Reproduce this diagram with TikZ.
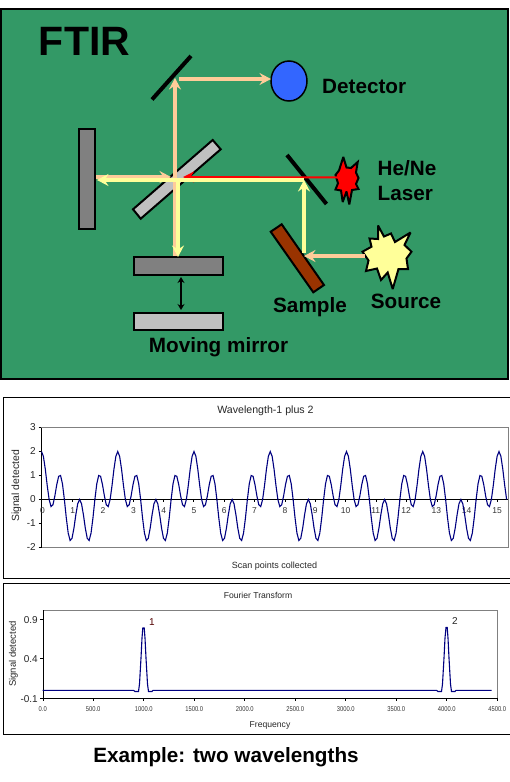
\documentclass[tikz,border=0pt]{standalone}
\usepackage{fontspec}
\setmainfont{Liberation Sans}
\newfontfamily\narrowfont[FakeStretch=0.83]{Liberation Sans}
\usetikzlibrary{arrows.meta,shapes.geometric}
\definecolor{panelgreen}{HTML}{339966}
\definecolor{beampeach}{HTML}{FFCC99}
\definecolor{beamyellow}{HTML}{FFFF99}
\definecolor{mirrorgray}{HTML}{808080}
\definecolor{mirrorsilver}{HTML}{C0C0C0}
\definecolor{samplebrown}{HTML}{993300}
\definecolor{detectorblue}{HTML}{3366FF}
\definecolor{curvenavy}{HTML}{000080}
\tikzset{
	boldlab/.style={font=\fontsize{20.7}{25}\selectfont\bfseries,align=left,inner sep=0pt},
	chartlab/.style={font=\fontsize{8.6}{10}\selectfont,inner sep=0pt,text=black!85},
	ticklab/.style={font=\fontsize{10}{10}\selectfont,inner sep=0pt,text=black!85},
	smalllab/.style={font=\narrowfont\fontsize{7}{8}\selectfont,inner sep=0pt,text=black!80},
	mirror/.style={draw=black,line width=2pt},
	burst/.style={draw=black,line width=2pt,miter limit=3},
	thinmirror/.style={draw=black,line width=4pt},
	peachbeam/.style={draw=beampeach,line width=3.6pt,-{Stealth[length=11.5pt,width=12pt,inset=4pt,fill=beampeach]}},
	yellowbeam/.style={draw=beamyellow,line width=3.6pt,-{Stealth[length=11.5pt,width=12pt,inset=4pt,fill=beamyellow]}},
}
\begin{document}
\begin{tikzpicture}[x=1pt,y=-1pt]
	\useasboundingbox (0,0) rectangle (509,782);

	% Panell superior
	\draw[fill=panelgreen,line width=2pt] (1,9) rectangle (508,379);
	\node[boldlab,font=\fontsize{41}{41}\selectfont\bfseries] (ftir) at (84.5,41) {FTIR};

	% Miralls
	\draw[mirror,fill=mirrorgray] (79,128.5) rectangle (94.5,228.5);
	\draw[mirror,fill=mirrorsilver] (212.7,140) -- (220.7,149.3) -- (140.7,218.7) -- (133,209.3) -- cycle;
	\draw[mirror,fill=mirrorgray] (134,257) rectangle (223,274.5);
	\draw[mirror,fill=mirrorsilver] (134,312.5) rectangle (223,330);
	\draw[thinmirror] (152,99.5) -- (191,56);
	\draw[thinmirror] (287,155) -- (326.5,204);
	\draw[mirror,fill=samplebrown] (270.7,231.7) -- (281.7,224.3) -- (324,285) -- (313.3,292.3) -- cycle;

	% Detector, laser i font
	\node[draw,line width=1.5pt,fill=detectorblue,ellipse,minimum width=36pt,minimum height=40pt,inner sep=0pt] (detector) at (289,81) {};
	\draw[burst,fill=red] (343.3,157) -- (346.5,167.5) -- (351,168) -- (357.7,162)
		-- (356,172.5) -- (358.5,178) -- (356,184) -- (358.5,189) -- (352,190) -- (349.3,204.5)
		-- (346.5,191.5) -- (342.7,202) -- (341,190.5) -- (335.5,189.5) -- (338,183.3)
		-- (335.5,175) -- (339,170.5) -- cycle;
	\draw[burst,fill=beamyellow] (378,225.5) -- (384,236.5) -- (391,233.5) -- (395,242) -- (410.5,232.5)
		-- (404.5,245) -- (411.5,251.7) -- (406.5,258.5) -- (408,269) -- (398.5,269) -- (392.7,289)
		-- (387.7,272.5) -- (381,280) -- (377,268.5) -- (366,271) -- (368.5,260.5) -- (362.5,251.7)
		-- (371.5,246.7) -- (369.5,238.5) -- (378,239) -- cycle;

	% Punts dels feixos
	\coordinate (TopM) at (175,78);
	\coordinate (Low) at (175,256);
	\coordinate (DetIn) at (271,79);
	\coordinate (DetOut) at (179,79);
	\coordinate (Back) at (96,177);
	\coordinate (SplitL) at (171,177);
	\coordinate (LasM) at (304,180);
	\coordinate (SamM) at (304,256);
	\coordinate (SrcOut) at (365,256);
	\coordinate (LasOut) at (338,177.5);
	\coordinate (SplitR) at (183,177);

	% Feixos
	\draw[peachbeam] (Low) -- (TopM);
	\draw[peachbeam] (DetOut) -- (DetIn);
	\draw[peachbeam] (Back) -- (SplitL);
	\draw[peachbeam] (SrcOut) -- (SamM);
	\draw[red,line width=2pt,-{Stealth[length=11pt,width=11pt,inset=3.5pt]}] (LasOut) -- (SplitR);
	\draw[yellowbeam] (LasM) -- (97,180);
	\draw[yellowbeam] (178,180) -- (178,257);
	\draw[yellowbeam] (304,253) -- (LasM);
	\draw[line width=1.5pt,{Stealth[length=6pt,width=7pt]}-{Stealth[length=6pt,width=7pt]}] (181,277) -- (181,310);

	\node[boldlab,anchor=west] (detlab) at (322,86) {Detector};
	\node[boldlab,anchor=north west,text width=70pt] (laslab) at (377.5,160.5) {He/Ne\\Laser};
	\node[boldlab] (srclab) at (406,301) {Source};
	\node[boldlab] (samlab) at (310,307) {Sample};
	\node[boldlab] (movlab) at (218.5,347) {Moving mirror};

	% Primer grafic
	\draw[line width=1pt] (3.5,397.5) rectangle (515,578);
	\draw[mirrorgray] (41,427.5) -- (507.7,427.5) -- (507.7,547.5) -- (41,547.5);
	\draw (41,427.5) -- (41,547.5);
	\draw[line width=0.9pt] (41,499.5) -- (507.7,499.5);
	\foreach \y/\lab in {3/3,2/2,1/1,0/0,-1/-1,-2/-2} {
		\draw (38.5,499.5-24*\y) -- (41,499.5-24*\y);
		\node[ticklab,anchor=east] (ya\y) at (36,499.5-24*\y) {\lab};
	}
	\foreach \x in {0,...,15} {
		\draw (41.5+30.4*\x,499.5) -- (41.5+30.4*\x,502);
		\node[smalllab,font=\fontsize{8.5}{9}\selectfont] (xa\x) at (42.5+30.3*\x,510.5) {\x};
	}
	\draw[curvenavy,line width=1.1pt] plot[domain=0:15.25,samples=245] ({41.5+30.5*\x},{499.5-24*(cos(144*\x)+cos(576*\x))});
	\node[chartlab,font=\fontsize{10.6}{11}\selectfont] (titlea) at (265.5,411) {Wavelength-1 plus 2};
	\node[chartlab,font=\fontsize{9}{10}\selectfont] (scanlab) at (274.5,566) {Scan points collected};
	\node[chartlab,font=\fontsize{10.4}{11}\selectfont,rotate=90] (siga) at (16.5,486) {Signal detected};

	% Segon grafic
	\draw[line width=1pt] (3.5,583.5) rectangle (515,734.5);
	\draw[mirrorgray] (42.7,610.3) -- (497.3,610.3) -- (497.3,698.3);
	\draw (42.7,610.3) -- (42.7,698.3) -- (497.3,698.3);
	\foreach \y/\lab in {618.7/0.9,658.5/0.4,698.3/-0.1} {
		\draw (40,\y) -- (42.7,\y);
		\node[ticklab,anchor=east] (yb\lab) at (38,\y+1) {\lab};
	}
	\foreach \x/\lab in {0/0.0,500/500.0,1000/1000.0,1500/1500.0,2000/2000.0,2500/2500.0,3000/3000.0,3500/3500.0,4000/4000.0,4500/4500.0} {
		\draw (42.7+0.101*\x,698.3) -- (42.7+0.101*\x,701);
		\node[smalllab] (xb\x) at (42.7+0.101*\x,709.5) {\lab};
	}
	\draw[curvenavy,line width=1.1pt] plot coordinates {(42.7,690.3) (133.5,690.3) (135,691.5) (138.5,691.5) (139.5,684) (141,658) (142,638) (142.8,628) (144.2,628) (145,638) (146,658) (147.5,684) (148.5,691.5) (152,691.5) (153,690.3)
		(436.5,690.3) (438,691.5) (441.5,691.5) (442.5,684) (444,658) (445,638) (446,627.5) (447.2,627.5) (448,638) (449,658) (450.5,684) (451.5,691.5) (455,691.5) (456,690.3) (491.7,690.3)};
	\node[ticklab,text=black!60!red!80!black] (peaka) at (152,622.5) {1};
	\node[ticklab] (peakb) at (455,621) {2};
	\node[chartlab] (titleb) at (258,595.5) {Fourier Transform};
	\node[chartlab] (freqlab) at (270,725) {Frequency};
	\node[chartlab,font=\fontsize{9.5}{10}\selectfont,rotate=90] (sigb) at (13.5,654) {Signal detected};

	\node[boldlab] (caption) at (226,757) {Example: two wavelengths};
\end{tikzpicture}
\end{document}
